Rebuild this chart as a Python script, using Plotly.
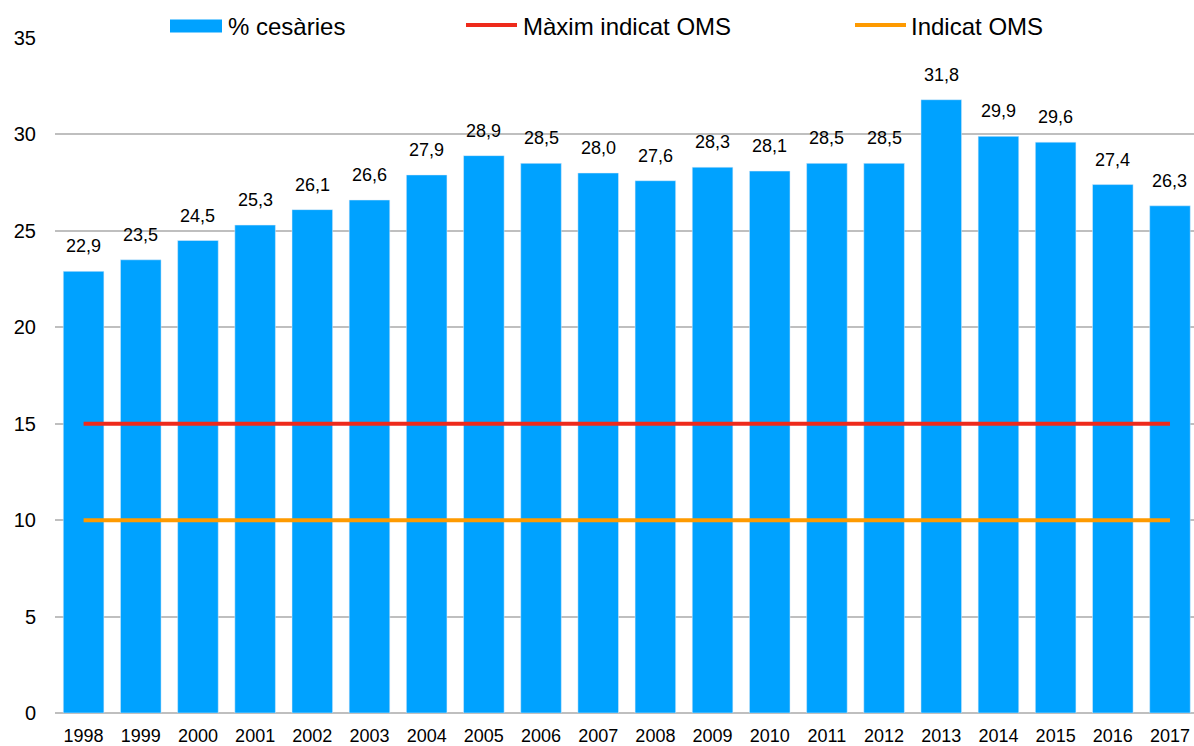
import plotly.graph_objects as go

years = ["1998", "1999", "2000", "2001", "2002", "2003", "2004", "2005", "2006", "2007",
         "2008", "2009", "2010", "2011", "2012", "2013", "2014", "2015", "2016", "2017"]
cesaries = [22.9, 23.5, 24.5, 25.3, 26.1, 26.6, 27.9, 28.9, 28.5, 28.0,
            27.6, 28.3, 28.1, 28.5, 28.5, 31.8, 29.9, 29.6, 27.4, 26.3]
oms_max = 15
oms_ind = 10

BLUE = "#00A2FF"
RED = "#EE2A1B"
ORANGE = "#FE9A00"
FONT = "Liberation Sans, Arial, sans-serif"

# plot area in pixels, used to place the hand-made legend
L, R, T, B = 55, 1194, 37.5, 712.7


def px(x):
    return (x - L) / (R - L)


def py(y):
    return (B - y) / (B - T)


fig = go.Figure()

fig.add_trace(go.Bar(x=years, y=cesaries, marker_color=BLUE, name="% cesàries",
                     showlegend=False))
fig.add_trace(go.Scatter(x=[years[0], years[-1]], y=[oms_max, oms_max], mode="lines",
                         line=dict(color=RED, width=4), name="Màxim indicat OMS",
                         showlegend=False))
fig.add_trace(go.Scatter(x=[years[0], years[-1]], y=[oms_ind, oms_ind], mode="lines",
                         line=dict(color=ORANGE, width=4), name="Indicat OMS",
                         showlegend=False))

# value labels above the bars (category index, since the years look numeric)
for i, v in enumerate(cesaries):
    fig.add_annotation(x=i, y=v, text=f"{v:.1f}".replace(".", ","), showarrow=False,
                       yanchor="middle", yshift=25, font=dict(size=18, color="black"))

# legend drawn by hand to get the wide swatches of the original
fig.add_shape(type="rect", xref="paper", yref="paper", x0=px(170), x1=px(222),
              y0=py(32), y1=py(19), fillcolor=BLUE, line_width=0)
fig.add_shape(type="line", xref="paper", yref="paper", x0=px(466), x1=px(517),
              y0=py(24.5), y1=py(24.5), line=dict(color=RED, width=4))
fig.add_shape(type="line", xref="paper", yref="paper", x0=px(855), x1=px(906),
              y0=py(24.5), y1=py(24.5), line=dict(color=ORANGE, width=4))
for xpos, label in [(226, "% cesàries"), (521, "Màxim indicat OMS"), (909, "Indicat OMS")]:
    fig.add_annotation(xref="paper", yref="paper", x=px(xpos), y=py(26), text=label,
                       showarrow=False, xanchor="left", yanchor="middle",
                       font=dict(size=24, color="black"))

fig.update_layout(
    width=1194, height=746,
    margin=dict(l=L, r=0, t=T, b=746 - B),
    plot_bgcolor="white", paper_bgcolor="white",
    font=dict(family=FONT, color="black"),
    bargap=0.29,
    showlegend=False,
)
fig.update_xaxes(type="category", range=[-0.5, 19.42], showgrid=False,
                 tickfont=dict(size=18), ticks="", ticklabelstandoff=10)
fig.update_yaxes(range=[0, 35], dtick=5, showgrid=True, gridcolor="#BFBFBF", gridwidth=2,
                 zeroline=True, zerolinecolor="#BFBFBF", zerolinewidth=2,
                 tickfont=dict(size=20), ticks="", ticklabelstandoff=18)

# drop the default body margin so the figure fills the window exactly
fig.write_html("out.html", config={"displayModeBar": False},
               post_script="document.body.style.margin='0';"
                           "document.body.style.overflow='hidden';")
